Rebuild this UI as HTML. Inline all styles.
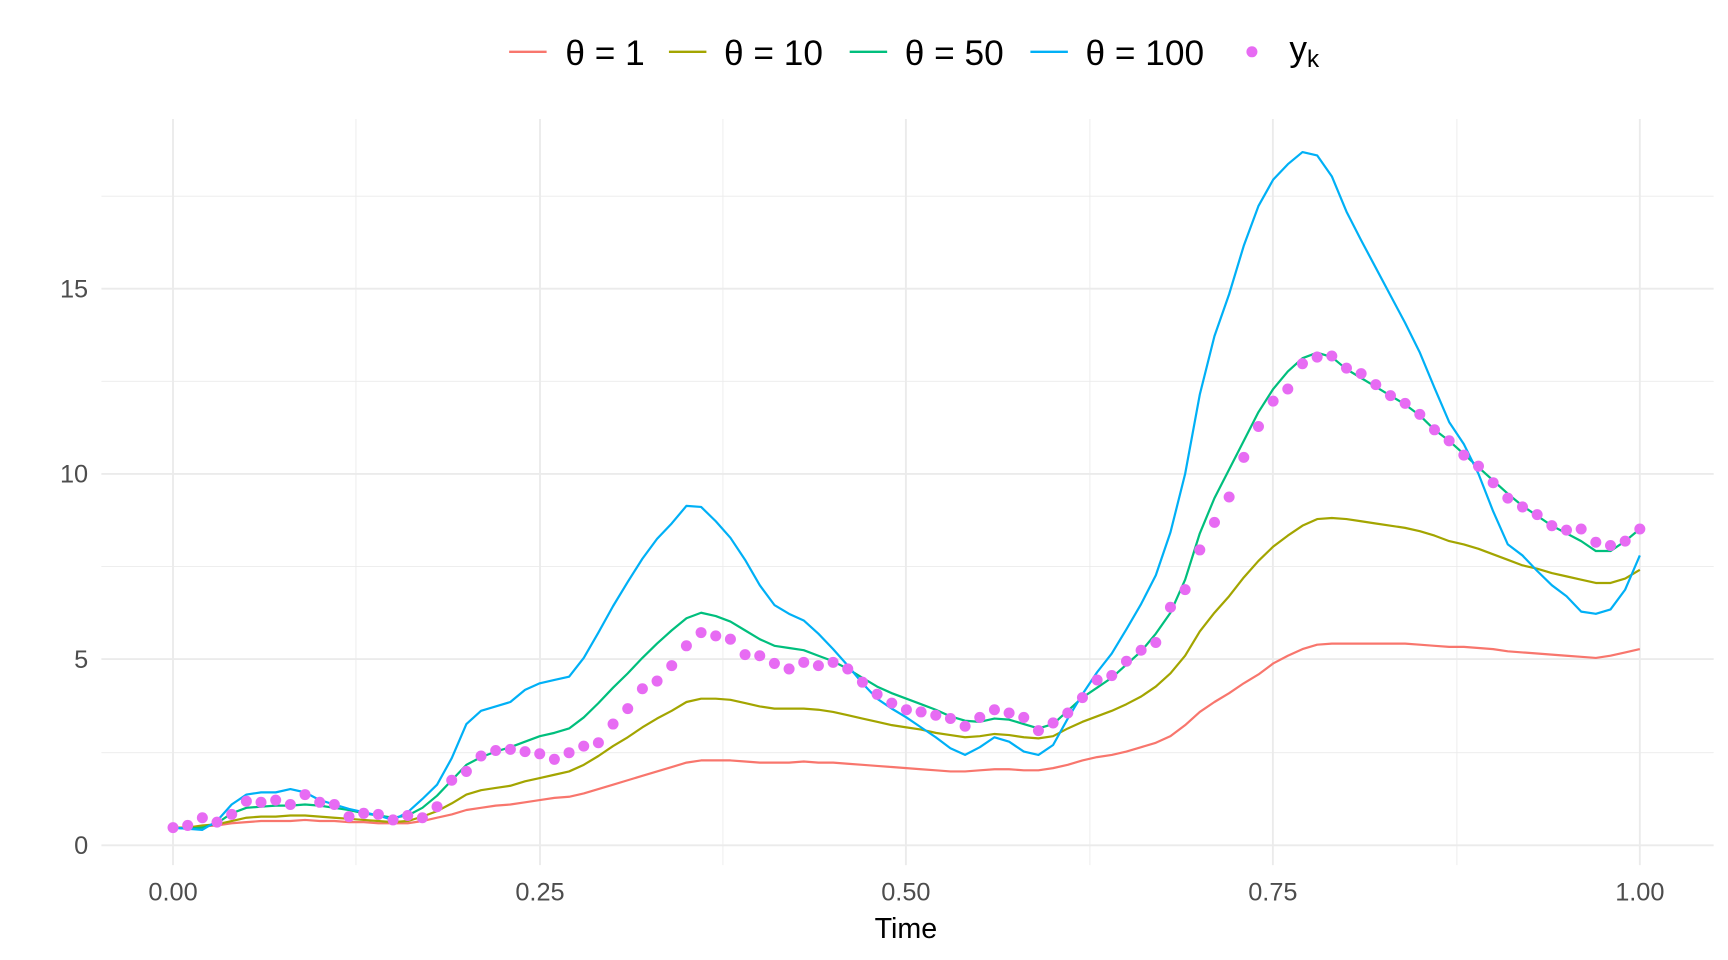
<!DOCTYPE html>
<html><head><meta charset="utf-8"><style>
html,body{margin:0;padding:0;background:#fff;}
svg{display:block;}
text{font-family:"Liberation Sans",Arial,sans-serif;}
</style></head><body>
<svg id="s" width="1728" height="960" viewBox="0 0 1568 871.1" xmlns="http://www.w3.org/2000/svg">
<rect width="1568" height="872" fill="#fff"/>
<g id="grid"></g>
<g id="series"></g>
<g font-size="23" fill="#4d4d4d" text-anchor="end">
<text x="80" y="775">0</text><text x="80" y="606">5</text><text x="80" y="438">10</text><text x="80" y="270">15</text>
</g>
<g font-size="23" fill="#4d4d4d" text-anchor="middle">
<text x="157" y="817">0.00</text><text x="490" y="817">0.25</text><text x="822" y="817">0.50</text><text x="1155" y="817">0.75</text><text x="1488" y="817">1.00</text>
</g>
<text x="822" y="851" font-size="26" text-anchor="middle" fill="#000">Time</text>
<g font-size="32" fill="#000">
<line x1="462" y1="47" x2="496" y2="47" stroke="#F8766D" stroke-width="2.2"/>
<text x="513" y="59">θ = 1</text>
<line x1="607" y1="47" x2="641" y2="47" stroke="#A3A500" stroke-width="2.2"/>
<text x="657" y="59">θ = 10</text>
<line x1="771" y1="47" x2="805" y2="47" stroke="#00BF7D" stroke-width="2.2"/>
<text x="821" y="59">θ = 50</text>
<line x1="935" y1="47" x2="969" y2="47" stroke="#00B0F6" stroke-width="2.2"/>
<text x="985" y="59">θ = 100</text>
<circle cx="1136" cy="47" r="5" fill="#E76BF3"/>
<text x="1170" y="55">y<tspan font-size="22" dy="6">k</tspan></text>
</g>
</svg>
<script>
var NS="http://www.w3.org/2000/svg";
function el(t,a,p){var e=document.createElementNS(NS,t);for(var k in a)e.setAttribute(k,a[k]);p.appendChild(e);return e;}
var g=document.getElementById("grid");
[683,514,346,178].forEach(function(y){el("line",{x1:92,x2:1555,y1:y,y2:y,stroke:"#ebebeb","stroke-width":0.8},g);});
[323,656,989,1322].forEach(function(x){el("line",{x1:x,x2:x,y1:108,y2:785,stroke:"#ebebeb","stroke-width":0.8},g);});
[767,598,430,262].forEach(function(y){el("line",{x1:92,x2:1555,y1:y,y2:y,stroke:"#ebebeb","stroke-width":1.7},g);});
[157,490,822,1155,1488].forEach(function(x){el("line",{x1:x,x2:x,y1:108,y2:785,stroke:"#ebebeb","stroke-width":1.7},g);});
var red=[751,751,750,749,747,746,745,745,745,744,745,745,746,746,747,747,747,745,742,739,735,733,731,730,728,726,724,723,720,716,712,708,704,700,696,692,690,690,690,691,692,692,692,691,692,692,693,694,695,696,697,698,699,700,700,699,698,698,699,699,697,694,690,687,685,682,678,674,668,658,646,637,629,620,612,602,595,589,585,584,584,584,584,584,584,585,586,587,587,588,589,591,592,593,594,595,596,597,595,592,589];
var olive=[751,751,749,748,745,742,741,741,740,740,741,742,743,744,745,746,745,741,736,729,721,717,715,713,709,706,703,700,694,686,677,669,660,652,645,637,634,634,635,638,641,643,643,643,644,646,649,652,655,658,660,662,665,667,669,668,666,667,669,670,668,661,655,650,645,639,632,623,611,595,573,556,541,524,509,496,486,477,471,470,471,473,475,477,479,482,486,491,494,498,503,508,513,516,520,523,526,529,529,525,517];
var green=[751,752,751,747,738,733,732,731,731,730,731,733,735,738,740,742,740,733,722,708,694,687,682,678,673,668,665,661,651,638,624,611,597,584,572,561,556,559,564,572,580,586,588,590,595,600,607,615,623,629,634,639,644,650,654,655,652,653,657,661,657,645,633,624,615,603,591,575,556,526,484,452,426,400,374,353,337,325,320,324,335,343,351,359,367,377,390,400,412,424,436,448,459,468,477,484,491,500,500,491,480];
var blue=[751,752,753,745,730,721,719,719,716,719,726,730,734,737,740,744,737,725,712,688,657,645,641,637,626,620,617,614,597,574,550,528,507,489,475,459,460,473,488,508,531,549,557,563,575,589,604,620,634,643,651,660,669,679,685,678,669,673,682,685,676,652,630,610,593,571,548,522,483,430,358,305,267,223,187,163,149,138,141,160,192,218,243,268,293,320,352,383,403,430,464,494,504,518,531,541,555,557,553,535,504];
var dots=[751,749,742,746,739,727,728,726,730,721,728,730,741,738,739,744,740,742,732,708,700,686,681,680,682,684,689,683,677,674,657,643,625,618,604,586,574,577,580,594,595,602,607,601,604,601,607,619,630,638,644,646,649,652,659,651,644,647,651,663,656,647,633,617,613,600,590,583,551,535,499,474,451,415,387,364,353,330,324,323,334,339,349,359,366,376,390,400,413,423,438,452,460,467,477,481,480,492,495,491,480];
var s=document.getElementById("series");
function X(i){return 157+i*13.31;}
[[red,"#F8766D"],[olive,"#A3A500"],[green,"#00BF7D"],[blue,"#00B0F6"]].forEach(function(p){
 var pts=p[0].map(function(y,i){return X(i).toFixed(1)+","+y;}).join(" ");
 el("polyline",{points:pts,fill:"none",stroke:p[1],"stroke-width":2,"stroke-linejoin":"round"},s);
});
dots.forEach(function(y,i){el("circle",{cx:X(i),cy:y,r:5,fill:"#E76BF3"},s);});
</script>
</body></html>
